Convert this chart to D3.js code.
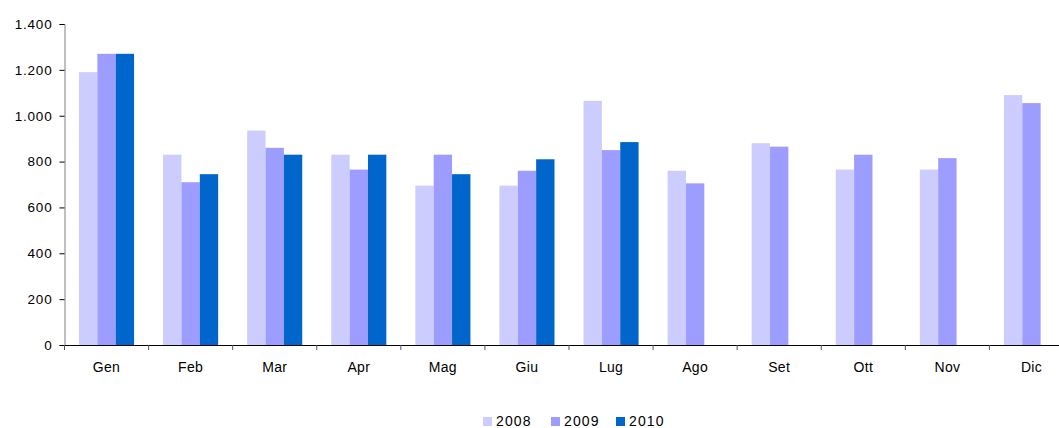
<!DOCTYPE html>
<html><head><meta charset="utf-8">
<script src="https://cdn.jsdelivr.net/npm/d3@7"></script>
<style>
body{margin:0;background:#fff;overflow:hidden}
text{font-family:"Liberation Sans",Arial,sans-serif;fill:#000}
</style></head>
<body><svg id="c" width="1059" height="428"></svg>
<script>
const categories = ["Gen","Feb","Mar","Apr","Mag","Giu","Lug","Ago","Set","Ott","Nov","Dic"];
const seriesNames = ["2008","2009","2010"];
const v2008 = [1190, 830, 935, 830, 695, 695, 1065, 760, 880, 765, 765, 1090];
const v2009 = [1270, 710, 860, 765, 830, 760, 850, 705, 865, 830, 815, 1055];
const v2010 = [1270, 745, 830, 830, 745, 810, 885, null, null, null, null, null];
const yTicks = [0,200,400,600,800,1000,1200,1400];
const colors = ["#CCCCFF","#9D9DFF","#0066CC"];

(function(){
const series = [v2008, v2009, v2010];
const svg = d3.select("#c");
const pL = 64.5, pR = 1073.5, pT = 24, pB = 345;
const fmt = d => d3.format(",")(d).replace(/,/g, ".");

const x = d3.scaleBand().domain(categories).range([pL, pR]).padding(0);
const groupFrac = 0.655;
const x1 = d3.scaleBand().domain(seriesNames).range([0, x.bandwidth()*groupFrac]).padding(0);
const y = d3.scaleLinear().domain([0,1400]).range([pB, pT]);

series.forEach((vals, si) => {
  svg.append("g").selectAll("rect")
    .data(categories.map((c,i)=>({c, v: vals[i]})).filter(d => d.v != null))
    .join("rect")
    .attr("x", d => x(d.c) + x.bandwidth()*(1-groupFrac)/2 + x1(seriesNames[si]))
    .attr("width", x1.bandwidth())
    .attr("y", d => y(d.v))
    .attr("height", d => y(0) - y(d.v))
    .attr("fill", colors[si]);
});

const yAxis = svg.append("g").attr("transform", `translate(${pL},0)`)
  .call(d3.axisLeft(y).tickValues(yTicks).tickFormat(fmt).tickSize(5).tickPadding(7));
yAxis.select(".domain").attr("stroke", "#808080");
yAxis.selectAll(".tick line").attr("stroke", "#000");
yAxis.selectAll("text").style("font-size","13.5px").style("letter-spacing","0.8px").attr("fill","#000");

const xAxis = svg.append("g").attr("transform", `translate(0,${pB})`)
  .call(d3.axisBottom(x).tickSize(0).tickPadding(0));
xAxis.select(".domain").attr("stroke", "#000");
xAxis.selectAll(".tick").remove();
const bounds = categories.map(c => x(c)).concat([pR]);
xAxis.selectAll("line.bt").data(bounds).join("line").attr("class","bt")
  .attr("x1", d=>d).attr("x2", d=>d).attr("y1",0).attr("y2",5).attr("stroke","#555");
xAxis.selectAll("text.cl").data(categories).join("text").attr("class","cl")
  .attr("x", d => x(d) + x.bandwidth()/2).attr("y", 27)
  .attr("text-anchor","middle").style("font-size","14px").style("letter-spacing","0.3px").text(d=>d);
svg.selectAll("g").attr("font-family", null).attr("font-size", null);

const legX = [483, 551, 616];
const lg = svg.append("g");
seriesNames.forEach((s,i) => {
  lg.append("rect").attr("x", legX[i]).attr("y", 417).attr("width", 9).attr("height", 9).attr("fill", colors[i]);
  lg.append("text").attr("x", legX[i]+13).attr("y", 426).style("font-size","14px").style("letter-spacing","1.1px").text(s);
});
})();
</script></body></html>
